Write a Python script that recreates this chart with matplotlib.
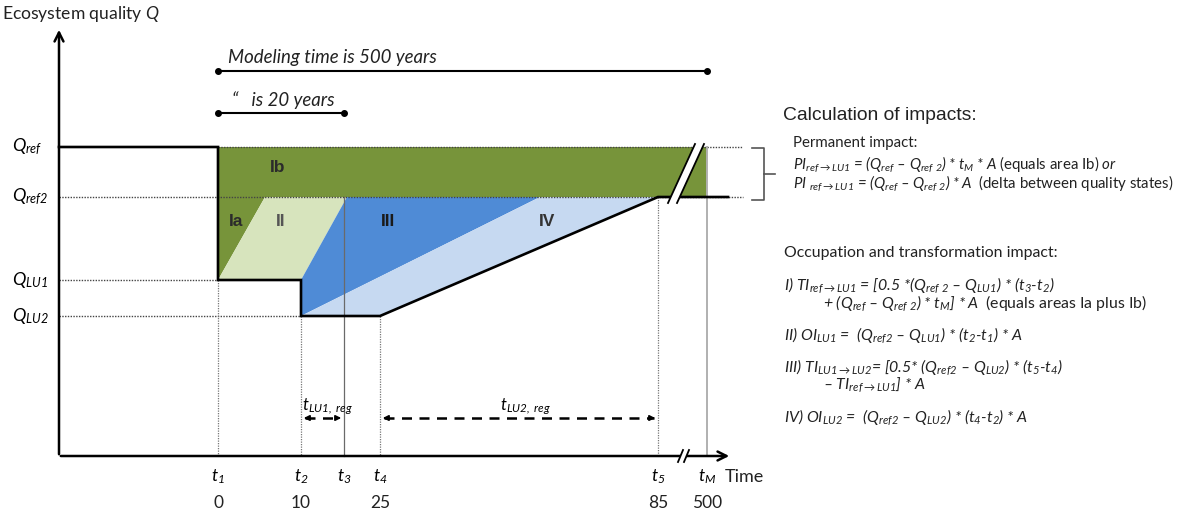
import matplotlib
matplotlib.use("Agg")
import matplotlib.pyplot as plt
from matplotlib.patches import Polygon

plt.rcParams['font.family'] = ['Lato', 'DejaVu Sans']
plt.rcParams['mathtext.fontset'] = 'custom'
plt.rcParams['mathtext.it'] = 'Lato:italic'
plt.rcParams['mathtext.rm'] = 'Lato:italic'
plt.rcParams['mathtext.sf'] = 'Lato'

# --- schematic positions (diagram units, y grows downward) ---
t_labels = ["t$_1$", "t$_2$", "t$_3$", "t$_4$", "t$_5$", "t$_M$"]
t_years = ["0", "10", "", "25", "85", "500"]
t_x = [218, 301, 344, 380, 658, 707]

q_labels = ["Q$_{ref}$", "Q$_{ref2}$", "Q$_{LU1}$", "Q$_{LU2}$"]
q_y = [147, 197, 280, 316]

# where the sloped region borders meet Q_ref2
x_ia, x_ii, x_iv = 265, 347, 540
x0, y0 = 59, 456          # axis origin
y_top, x_end = 27, 732    # arrow tips
x_line_end, x_dot_end = 728, 743

region_names = ["Ib", "Ia", "II", "III", "IV"]
region_colors = ["#77943a", "#77943a", "#d7e4bd", "#4f8bd6", "#c6d9f1"]

t1, t2, t3, t4, t5, tM = t_x
qref, qref2, qlu1, qlu2 = q_y

fig = plt.figure(figsize=(11.86, 5.15), dpi=100)
ax = fig.add_axes([0, 0, 1, 1])
ax.set_xlim(0, 1186)
ax.set_ylim(515, 0)
ax.axis("off")

# --- filled areas ---
polys = [
    [(t1, qref), (tM, qref), (tM, qref2), (t1, qref2)],
    [(t1, qref2), (x_ia, qref2), (t1, qlu1)],
    [(t1, qlu1), (x_ia, qref2), (x_ii, qref2), (t2, qlu1)],
    [(t2, qlu1), (x_ii, qref2), (x_iv, qref2), (t2, qlu2)],
    [(t2, qlu2), (x_iv, qref2), (t5, qref2), (t4, qlu2)],
]
for pts, c in zip(polys, region_colors):
    ax.add_patch(Polygon(pts, closed=True, facecolor=c, edgecolor="none", zorder=1))

lab_pos = [(278, 167), (236, 221), (281, 221), (388, 221), (547, 221)]
lab_col = ["#2b2b2b", "#2b2b2b", "#555555", "#1a1a1a", "#333333"]
for name, (lx, ly), c in zip(region_names, lab_pos, lab_col):
    ax.text(lx, ly, name, fontsize=12.5, fontweight="bold", family="Liberation Sans",
            color=c, ha="center", va="center", zorder=5)

# --- guide lines ---
dot = dict(color="#444444", lw=1.0, linestyle=(0, (1, 1)), zorder=2)
ax.plot([t1, x_dot_end], [qref, qref], **dot)
ax.plot([x0, x_dot_end], [qref2, qref2], **dot)
ax.plot([x0, t1], [qlu1, qlu1], **dot)
ax.plot([x0, t2], [qlu2, qlu2], **dot)

vdot = dict(color="#777777", lw=0.9, linestyle=(0, (1, 1)), zorder=2)
ax.plot([t1, t1], [qlu1, y0], **vdot)
ax.plot([t2, t2], [qlu2, y0], **vdot)
ax.plot([t4, t4], [qlu2, y0], **vdot)
ax.plot([t5, t5], [qref2, y0], **vdot)
ax.plot([t3, t3], [qref2, y0], color="#6a6a6a", lw=0.9, zorder=2)
ax.plot([tM, tM], [qref, y0], color="#b0b0b0", lw=1.4, zorder=2)

# --- quality path ---
path_x = [x0, t1, t1, t2, t2, t4, t5, x_line_end]
path_y = [qref, qref, qlu1, qlu1, qlu2, qlu2, qref2, qref2]
ax.plot(path_x, path_y, color="black", lw=1.9, solid_joinstyle="miter", zorder=4)

# --- break marks ---
brk = [(695, 144), (704, 144), (677, 203), (668, 203)]
ax.add_patch(Polygon(brk, closed=True, facecolor="white", edgecolor="none", zorder=6))
ax.plot([695, 668], [144, 203], color="black", lw=1.3, zorder=7)
ax.plot([704, 677], [144, 203], color="black", lw=1.3, zorder=7)

# --- axes ---
ax.annotate("", xy=(x0, y_top), xytext=(x0, y0 + 1),
            arrowprops=dict(arrowstyle="->", lw=1.8, color="black", mutation_scale=16))
ax.annotate("", xy=(x_end, y0), xytext=(x0 - 1, y0),
            arrowprops=dict(arrowstyle="->", lw=1.8, color="black", mutation_scale=16))
ax.add_patch(Polygon([(683, 450), (689, 450), (684, 462), (678, 462)], closed=True,
                     facecolor="white", edgecolor="none", zorder=6))
ax.plot([683, 678], [450, 462], color="black", lw=1.3, zorder=7)
ax.plot([689, 684], [450, 462], color="black", lw=1.3, zorder=7)

for xx, tl, yr in zip(t_x, t_labels, t_years):
    ax.text(xx, 477, tl, fontsize=12.5, style="italic", ha="center", va="center")
    ax.text(xx, 503, yr, fontsize=12.5, ha="center", va="center", color="#222222")
ax.text(725, 477, "Time", fontsize=13, ha="left", va="center", color="#222222")

for yy, ql in zip(q_y, q_labels):
    ax.text(12, yy, ql, fontsize=13, style="italic", ha="left", va="center")

ax.text(2, 14, "Ecosystem quality $Q$", fontsize=12.6, ha="left", va="center", color="#222222")

# --- modelling time bars ---
ax.plot([t1, tM], [71, 71], color="black", lw=1.5, marker="o", ms=4)
ax.text(228, 57, "Modeling time is 500 years", fontsize=13.4, style="italic",
        ha="left", va="center", color="#222222")
ax.plot([t1, t3], [113, 113], color="black", lw=1.5, marker="o", ms=4)
ax.text(232, 100, "\u201c   is 20 years", fontsize=13.4, style="italic",
        ha="left", va="center", color="#222222")

# --- regeneration time arrows ---
for xa, xb in [(t2, t3), (t4, t5)]:
    ax.plot([xa + 4, xb - 4], [418, 418], color="black", lw=1.8, linestyle=(0, (4, 3)))
    ax.annotate("", xy=(xa, 418), xytext=(xa + 10, 418),
                arrowprops=dict(arrowstyle="-|>", lw=1.2, color="black", mutation_scale=8))
    ax.annotate("", xy=(xb, 418), xytext=(xb - 10, 418),
                arrowprops=dict(arrowstyle="-|>", lw=1.2, color="black", mutation_scale=8))
ax.text(302, 410, "t$_{LU1,\\ reg}$", fontsize=12, style="italic", ha="left", va="baseline")
ax.text(500, 410, "t$_{LU2,\\ reg}$", fontsize=12, style="italic", ha="left", va="baseline")

# --- bracket ---
ax.plot([752, 764, 764, 752], [148, 148, 200, 200], color="#555555", lw=1.2)
ax.plot([764, 775], [174, 174], color="#555555", lw=1.2)

# --- right-hand text ---
ax.text(783, 115, "Calculation of impacts:", fontsize=13.9, family="Liberation Sans",
        ha="left", va="center", color="#222222")
fs = 11.4
kw = dict(fontsize=fs, ha="left", va="center", color="#222222")
kp = dict(kw, fontsize=10.8)
ax.text(793, 143, "Permanent impact:", **kp)
ax.text(793, 164, "PI$_{ref\\rightarrow LU1}$ = (Q$_{ref}$ \u2013 Q$_{ref\\ 2}$) * t$_M$ * A "
        "$\\mathsf{(equals\\ area\\ Ib)}$ or", style="italic", **kp)
ax.text(793, 183, "PI $_{ref\\rightarrow LU1}$ = (Q$_{ref}$ \u2013 Q$_{ref\\ 2}$) * A  "
        "$\\mathsf{(delta\\ between\\ quality\\ states)}$", style="italic", **kp)

ax.text(784, 253, "Occupation and transformation impact:", **kw)
ax.text(784, 285, "I) TI$_{ref\\rightarrow LU1}$ = [0.5 *(Q$_{ref\\ 2}$ \u2013 Q$_{LU1}$) * (t$_3$-t$_2$)",
        style="italic", **kw)
ax.text(823, 303, "+ (Q$_{ref}$ \u2013 Q$_{ref\\ 2}$) * t$_M$] * A  "
        "$\\mathsf{(equals\\ areas\\ Ia\\ plus\\ Ib)}$", style="italic", **kw)
ax.text(784, 335, "II) OI$_{LU1}$ =  (Q$_{ref2}$ \u2013 Q$_{LU1}$) * (t$_2$-t$_1$) * A",
        style="italic", **kw)
ax.text(784, 367, "III) TI$_{LU1\\rightarrow LU2}$= [0.5* (Q$_{ref2}$ \u2013 Q$_{LU2}$) * (t$_5$-t$_4$)",
        style="italic", **kw)
ax.text(823, 385, "\u2013 TI$_{ref\\rightarrow LU1}$] * A", style="italic", **kw)
ax.text(784, 417, "IV) OI$_{LU2}$ =  (Q$_{ref2}$ \u2013 Q$_{LU2}$) * (t$_4$-t$_2$) * A",
        style="italic", **kw)

fig.savefig("out.png", dpi=100)
